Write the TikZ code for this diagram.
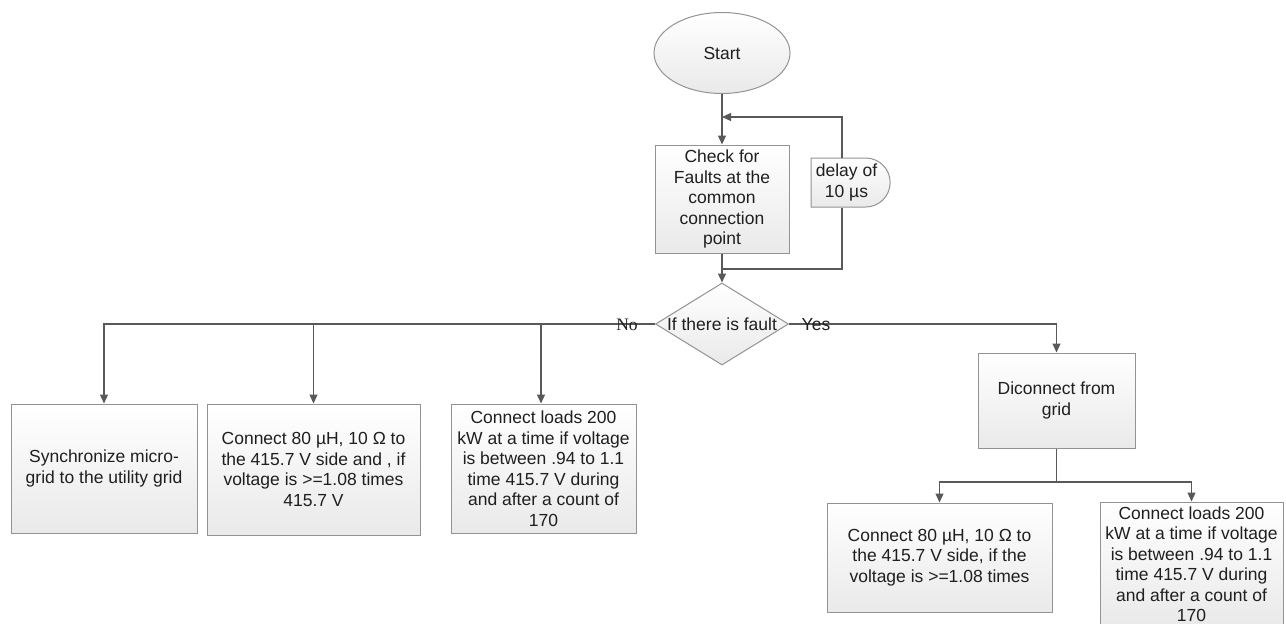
\documentclass[tikz,border=0pt]{standalone}
\usepackage{fontspec}
\setmainfont{Liberation Sans}
\newfontfamily\nolabelfont{Liberation Serif}
\usetikzlibrary{shapes.geometric,shapes.misc,arrows.meta}
\begin{document}
\begin{tikzpicture}[x=1pt,y=-1pt,
  every node/.style={font=\fontsize{17.5}{20.5}\selectfont, text=black!88},
  conn/.style={draw=black!65, line width=1.1pt},
  arr/.style={conn, -{Triangle[length=9pt,width=8pt]}},
  fillsh/.style={draw=gray!85, line width=1pt, top color=white, bottom color=gray!17},
  procbox/.style={fillsh, rectangle, align=center, inner xsep=1pt, inner ysep=0pt},
  lbl/.style={inner sep=0pt}
]
\useasboundingbox (0,0) rectangle (1286,624);
\fill[white] (0,0) rectangle (1286,624);
\clip (0,0) rectangle (1286,624);

% nodes
\node[fillsh, ellipse, minimum width=136pt, minimum height=81pt, inner sep=0pt] (start) at (722,53) {Start};
\node[procbox, minimum width=134pt, minimum height=108pt] (check) at (722,199)
  {Check for\\Faults at the\\common\\connection\\point};
\node[fillsh, rounded rectangle, rounded rectangle west arc=none, minimum width=79pt, minimum height=49pt, inner sep=0pt, align=center] (delay) at (846.5,182.5)
  {delay of\\10 µs};
\node[fillsh, diamond, minimum width=133pt, minimum height=82pt, inner sep=0pt, aspect=1.62] (dec) at (722,324) {};
\node[lbl] (dectext) at (dec.center) {If there is fault};

\node[procbox, minimum width=186pt, minimum height=129pt] (b1) at (104,468.5)
  {Synchronize micro-\\grid to the utility grid};
\node[procbox, minimum width=213pt, minimum height=131pt] (b2) at (313.5,469.5)
  {Connect 80 µH, 10 Ω to\\the 415.7 V side and , if\\voltage is >=1.08 times\\415.7 V};
\node[procbox, minimum width=185pt, minimum height=129pt] (b3) at (543.5,468.5)
  {Connect loads 200\\kW at a time if voltage\\is between .94 to 1.1\\time 415.7 V during\\and after a count of\\170};
\node[procbox, minimum width=157pt, minimum height=95pt] (disc) at (1056.5,400.5)
  {Diconnect from\\grid};
\node[procbox, minimum width=225pt, minimum height=109pt] (r1) at (939.5,557.5)
  {Connect 80 µH, 10 Ω to\\the 415.7 V side, if the\\voltage is >=1.08 times};
\node[procbox, minimum width=183pt, minimum height=124pt] (r2) at (1191.5,564)
  {Connect loads 200\\kW at a time if voltage\\is between .94 to 1.1\\time 415.7 V during\\and after a count of\\170};

% connectors
\coordinate (loopb) at (722,269);
\coordinate (loopt) at (722,117);
\coordinate (split) at (1056.5,482);

\draw[arr] (start.south) -- (check.north);
\draw[arr] (check.south) -- (dec.north);
\draw[conn] (loopb) -| ([xshift=-4.5pt]delay.south);
\draw[arr] ([xshift=-4.5pt]delay.north) |- (loopt);

\draw[arr] (dec.west) -| (b1.north);
\draw[arr] (b2.north |- dec.west) -- (b2.north);
\draw[arr] ([xshift=-2.5pt]b3.north |- dec.west) -- ([xshift=-2.5pt]b3.north);
\draw[arr] (dec.east) -| (disc.north);
\draw[conn] (disc.south) -- (split);
\draw[arr] (split) -| (r1.north);
\draw[arr] (split) -| (r2.north);

% labels
\node[lbl, font=\nolabelfont\fontsize{17.5}{20.5}\selectfont] (no) at (627,325) {No};
\node[lbl] (yes) at (816,325) {Yes};
\end{tikzpicture}
\end{document}
